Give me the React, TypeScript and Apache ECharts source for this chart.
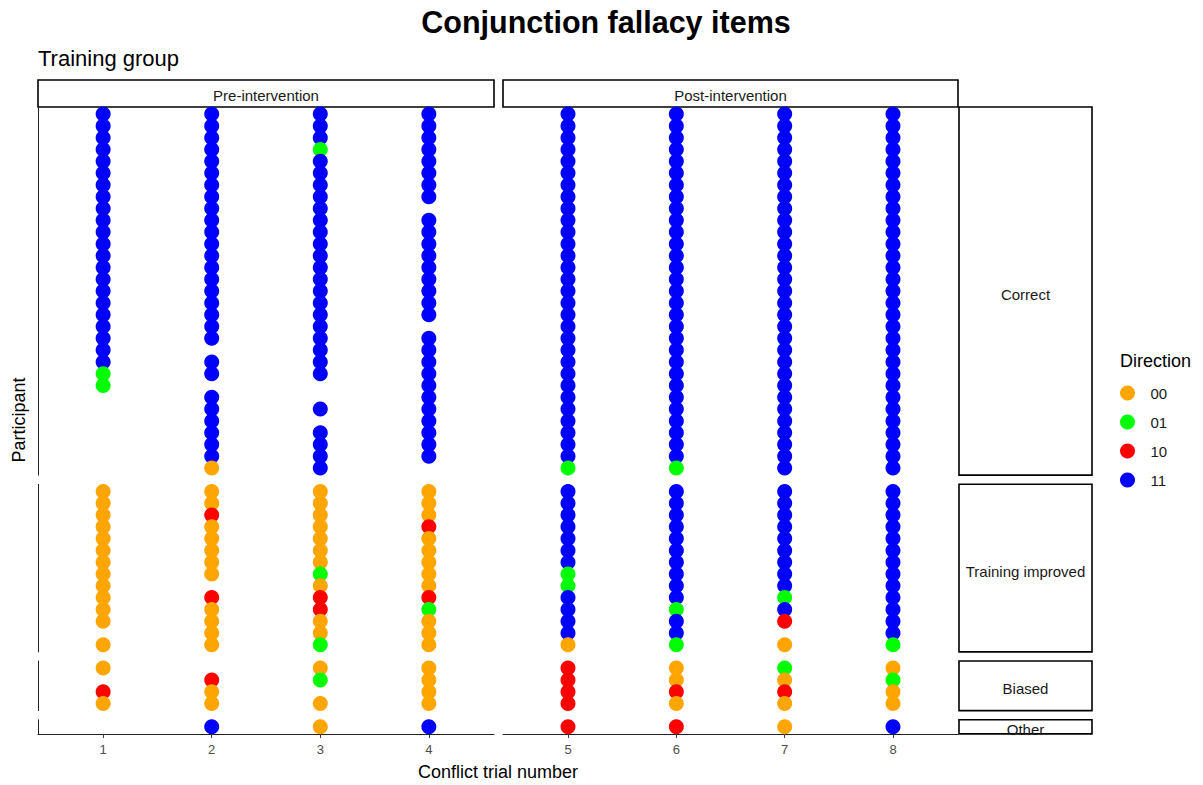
import React, { useEffect, useRef } from "react";
import * as echarts from "echarts";

// ---- data ----
const trials = [1, 2, 3, 4, 5, 6, 7, 8];
const xTickLabels = ["1", "2", "3", "4", "5", "6", "7", "8"];
const directions = ["00", "01", "10", "11"];
const directionColors = ["#FFA500", "#00FF00", "#FF0000", "#0000FF"];
// letter code used in the row strings below: o = 00, g = 01, r = 10, b = 11, . = no response
const letterToDirection: Record<string, string> = { o: "00", g: "01", r: "10", b: "11" };
const phases = ["Pre-intervention", "Post-intervention"];
const groups = ["Correct", "Training improved", "Biased", "Other"];

// each string = one trial column, participants from top to bottom
const correctRows = [
  "bbbbbbbbbbbbbbbbbbbbbbgg.......",
  "bbbbbbbbbbbbbbbbbbbb.bb.bbbbbbo",
  "bbbgbbbbbbbbbbbbbbbbbbb..b.bbbb",
  "bbbbbbbb.bbbbbbbbb.bbbbbbbbbbb.",
  "bbbbbbbbbbbbbbbbbbbbbbbbbbbbbbg",
  "bbbbbbbbbbbbbbbbbbbbbbbbbbbbbbg",
  "bbbbbbbbbbbbbbbbbbbbbbbbbbbbbbb",
  "bbbbbbbbbbbbbbbbbbbbbbbbbbbbbbb",
];
const improvedRows = [
  "oooooooooooo.o",
  "oorooooo.roooo",
  "ooooooogorroog",
  "ooorooooorgooo",
  "bbbbbbbggbbbbo",
  "bbbbbbbbbbgbbg",
  "bbbbbbbbbgbr.o",
  "bbbbbbbbbbbbbg",
];
const biasedRows = ["o.ro", ".roo", "og.o", "oooo", "rrrr", "ooro", "goro", "ogoo"];
const otherRows = [".", "b", "o", "b", "r", "r", "o", "b"];
const panelRows = [correctRows, improvedRows, biasedRows, otherRows];

// ---- layout ----
const FONT = "'Liberation Sans', Arial, sans-serif";
const colLeft = [38, 503];
const colWidth = [456, 455];
const panelTop = 107;
const unit = 11.8;
const panelGap = 9.15;
const stripX = 959;
const stripW = 133;

export default function App() {
  const ref = useRef<HTMLDivElement>(null);

  useEffect(() => {
    if (!ref.current) return;
    const chart = echarts.init(ref.current, undefined, { renderer: "svg" });

    const rowTop: number[] = [];
    const rowHeight: number[] = [];
    let y = panelTop;
    panelRows.forEach((rows) => {
      const n = rows[0].length;
      const h = (n - 1 + 1.2) * unit;
      rowTop.push(y);
      rowHeight.push(h);
      y += h + panelGap;
    });

    const grids: any[] = [];
    const xAxes: any[] = [];
    const yAxes: any[] = [];
    const series: any[] = [];

    groups.forEach((g, r) => {
      const n = panelRows[r][0].length;
      phases.forEach((p, c) => {
        const gi = r * 2 + c;
        grids.push({
          left: colLeft[c],
          width: colWidth[c],
          top: rowTop[r],
          height: rowHeight[r],
          containLabel: false,
        });
        const isBottom = r === groups.length - 1;
        const colTrials = trials.slice(c * 4, c * 4 + 4);
        xAxes.push({
          type: "value",
          gridIndex: gi,
          min: colTrials[0] - 0.6,
          max: colTrials[3] + 0.6,
          show: isBottom,
          axisLine: { show: true, onZero: false, lineStyle: { color: "#222", width: 1 } },
          axisTick: {
            show: true,
            length: 4,
            customValues: colTrials,
            lineStyle: { color: "#333" },
          },
          axisLabel: {
            show: true,
            customValues: colTrials,
            formatter: (v: number) => xTickLabels[Math.round(v) - 1] ?? "",
            color: "#4D4D4D",
            fontSize: 13,
            fontFamily: FONT,
            margin: 9,
          },
          splitLine: { show: false },
        });
        yAxes.push({
          type: "value",
          gridIndex: gi,
          inverse: true,
          min: -0.6,
          max: n - 1 + 0.6,
          axisLine: { show: c === 0, onZero: false, lineStyle: { color: "#222", width: 1 } },
          axisTick: { show: false },
          axisLabel: { show: false },
          splitLine: { show: false },
        });
        const data: any[] = [];
        colTrials.forEach((t) => {
          const s = panelRows[r][t - 1];
          for (let i = 0; i < s.length; i++) {
            const d = letterToDirection[s[i]];
            if (!d) continue;
            data.push({
              value: [t, i],
              itemStyle: { color: directionColors[directions.indexOf(d)], opacity: 1 },
            });
          }
        });
        series.push({
          type: "scatter",
          name: `${g} / ${p}`,
          xAxisIndex: gi,
          yAxisIndex: gi,
          symbol: "circle",
          symbolSize: 15,
          clip: false,
          itemStyle: { opacity: 1 },
          data,
        });
      });
    });

    // legend-only series
    directions.forEach((d, k) => {
      series.push({
        type: "scatter",
        name: d,
        xAxisIndex: 0,
        yAxisIndex: 0,
        symbol: "circle",
        itemStyle: { color: directionColors[k], opacity: 1 },
        data: [],
      });
    });

    const text = (t: string, x: number, yy: number, size: number, extra: any = {}) => ({
      type: "text",
      x,
      y: yy,
      silent: true,
      ...extra,
      style: {
        text: t,
        fontSize: size,
        fontFamily: FONT,
        fill: extra.fill ?? "#000",
        fontWeight: extra.fontWeight ?? "normal",
        align: extra.align ?? "center",
        textAlign: extra.align ?? "center",
        verticalAlign: "middle",
        textVerticalAlign: "middle",
      },
    });

    const graphics: any[] = [];
    // top strips
    phases.forEach((p, c) => {
      graphics.push({
        type: "rect",
        silent: true,
        shape: { x: colLeft[c], y: 80, width: colWidth[c], height: 27 },
        style: { fill: "#fff", stroke: "#000", lineWidth: 1.6 },
      });
      graphics.push(text(p, colLeft[c] + colWidth[c] / 2, 95, 15, { fill: "#1A1A1A" }));
    });
    // right strips
    groups.forEach((g, r) => {
      graphics.push({
        type: "rect",
        silent: true,
        shape: { x: stripX, y: rowTop[r], width: stripW, height: rowHeight[r] },
        style: { fill: "#fff", stroke: "#000", lineWidth: 1.6 },
      });
      graphics.push(
        text(g, stripX + stripW / 2, rowTop[r] + rowHeight[r] / 2 + 3, 15, { fill: "#1A1A1A" })
      );
    });
    // strip text is clipped at the strip edge (as in the original); mask the overflow
    const lastTop = rowTop[rowTop.length - 1] + rowHeight[rowHeight.length - 1];
    graphics.push({
      type: "rect",
      silent: true,
      shape: { x: stripX - 1, y: lastTop + 1, width: stripW + 2, height: 8 },
      style: { fill: "#fff" },
    });
    graphics.push(text("Conjunction fallacy items", 606, 22, 30.5, { fontWeight: "bold" }));
    graphics.push(text("Training group", 38, 58, 22, { align: "left" }));
    graphics.push(text("Conflict trial number", 498, 772, 18));
    graphics.push(text("Participant", 19, 420, 18, { rotation: Math.PI / 2 }));
    graphics.push(text("Direction", 1120, 361, 18, { align: "left" }));

    chart.setOption({
      animation: false,
      textStyle: { fontFamily: FONT },
      grid: grids,
      xAxis: xAxes,
      yAxis: yAxes,
      legend: {
        data: directions,
        orient: "vertical",
        left: 1120,
        top: 385.5,
        padding: 0,
        itemWidth: 30,
        itemHeight: 15,
        itemGap: 14,
        icon: "circle",
        selectedMode: false,
        textStyle: { fontSize: 15, color: "#1A1A1A", fontFamily: FONT, padding: [0, 0, 0, 3] },
      },
      graphic: graphics,
      series,
    });

    return () => chart.dispose();
  }, []);

  return (
    <div
      ref={ref}
      style={{ position: "fixed", left: 0, top: 0, width: 1203, height: 785, background: "#fff" }}
    />
  );
}
